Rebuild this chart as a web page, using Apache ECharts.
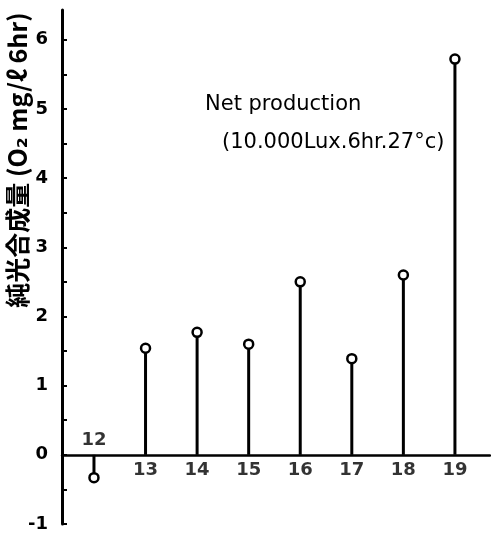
<!DOCTYPE html>
<html><head><meta charset="utf-8">
<script src="https://cdn.jsdelivr.net/npm/echarts@6/dist/echarts.min.js"></script>
<style>html,body{margin:0;padding:0;background:#fff}#c{width:491px;height:533px}</style>
</head><body><div id="c"></div>
<script>
const categories = [12, 13, 14, 15, 16, 17, 18, 19];
const values = [-0.33, 1.54, 1.77, 1.60, 2.50, 1.39, 2.60, 5.72];
const yTickLabels = [-1, 0, 1, 2, 3, 4, 5, 6];
const yAxisTitle = '純光合成量 (O₂ mg/ℓ 6hr)';
const noteLine1 = 'Net production';
const noteLine2 = '(10.000Lux.6hr.27°c)';

const FONT = '"DejaVu Sans", sans-serif';
const chart = echarts.init(document.getElementById('c'));
const pts = categories.map((c, i) => [c, values[i]]);

chart.setOption({
  animation: false,
  backgroundColor: '#fff',
  grid: { left: 62, top: 10, width: 428, height: 514 },
  xAxis: {
    type: 'value', min: 11.38, max: 19.68,
    axisLine: { onZero: true, lineStyle: { color: '#000', width: 2.5 } },
    axisTick: { show: false }, axisLabel: { show: false }, splitLine: { show: false }
  },
  yAxis: {
    type: 'value', min: -1, max: 6.43, interval: 0.5,
    axisLine: { show: true, onZero: false, lineStyle: { color: '#000', width: 3 } },
    axisTick: { show: true, inside: true, length: 5, lineStyle: { color: '#000', width: 2 } },
    axisLabel: {
      showMaxLabel: false, margin: 14, color: '#000', fontSize: 18, fontFamily: FONT, fontWeight: 'bold',
      formatter: v => (yTickLabels.indexOf(v) >= 0 ? String(v) : '')
    },
    splitLine: { show: false }
  },
  graphic: [
    { type: 'text', x: 17, y: 160, rotation: Math.PI / 2,
      style: { text: yAxisTitle, fill: '#000', font: 'bold 25px "Noto Sans CJK JP", "DejaVu Sans", sans-serif', align: 'center', verticalAlign: 'middle' } },
    { type: 'text', x: 205, y: 105,
      style: { text: noteLine1, fill: '#000', font: '21px ' + FONT, align: 'left', verticalAlign: 'middle' } },
    { type: 'text', x: 222, y: 143,
      style: { text: noteLine2, fill: '#000', font: '21px ' + FONT, align: 'left', verticalAlign: 'middle' } }
  ],
  series: [
    {
      type: 'custom',
      data: pts,
      renderItem: (params, api) => {
        const s = api.coord([api.value(0), 0]);
        const e = api.coord([api.value(0), api.value(1)]);
        return { type: 'line', shape: { x1: s[0], y1: s[1], x2: e[0], y2: e[1] },
          style: { stroke: '#000', lineWidth: 3 } };
      },
      z: 2
    },
    {
      type: 'scatter', data: pts, symbol: 'circle', symbolSize: 9,
      itemStyle: { color: '#fff', borderColor: '#000', borderWidth: 2.5, opacity: 1 },
      z: 3
    },
    {
      type: 'scatter', symbolSize: 0, itemStyle: { color: 'transparent' },
      data: categories.map((c, i) => ({
        value: [c, 0],
        label: { show: true, formatter: String(c), position: values[i] < 0 ? 'top' : 'bottom',
          distance: values[i] < 0 ? 5 : 7, color: '#000', fontSize: 18, fontFamily: FONT, fontWeight: 'bold' }
      })),
      silent: true, z: 4
    }
  ]
});
</script></body></html>
